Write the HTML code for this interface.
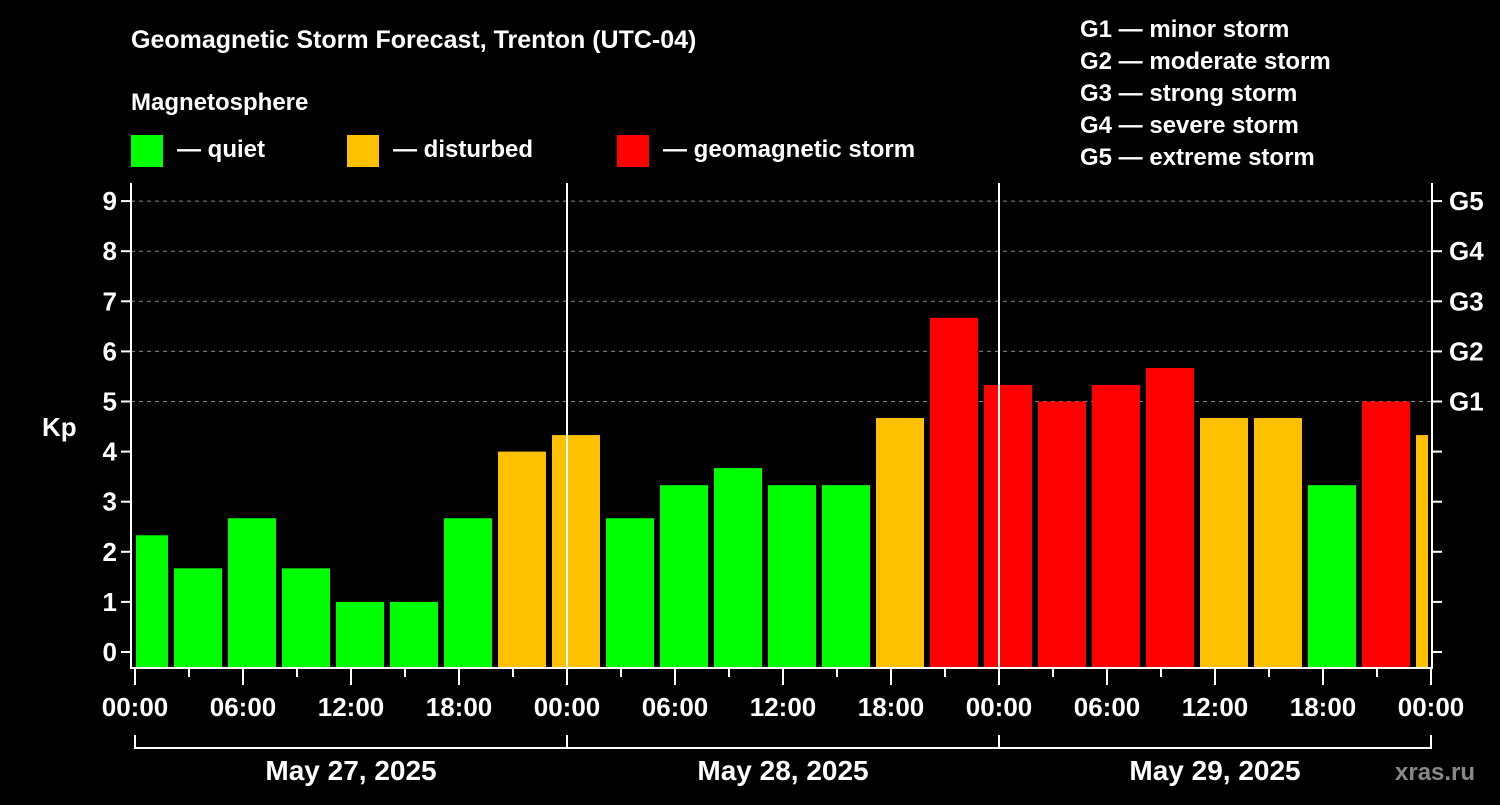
<!DOCTYPE html>
<html><head><meta charset="utf-8"><style>
body{margin:0;background:#000;width:1500px;height:800px;overflow:hidden;font-family:"Liberation Sans",sans-serif;}
svg text{font-family:"Liberation Sans",sans-serif;font-weight:bold;fill:#fff;}
</style></head><body>
<svg id="c" width="1500" height="800" xmlns="http://www.w3.org/2000/svg">
<text x="131" y="48" font-size="25">Geomagnetic Storm Forecast, Trenton (UTC-04)</text>
<text x="131" y="110" font-size="24">Magnetosphere</text>
<rect x="131" y="135" width="32" height="32" fill="#00ff00"/>
<text x="177" y="157" font-size="24">— quiet</text>
<rect x="347" y="135" width="32" height="32" fill="#ffc000"/>
<text x="393" y="157" font-size="24">— disturbed</text>
<rect x="617" y="135" width="32" height="32" fill="#ff0000"/>
<text x="663" y="157" font-size="24">— geomagnetic storm</text>
<g font-size="24">
<text x="1080" y="37">G1 — minor storm</text>
<text x="1080" y="69">G2 — moderate storm</text>
<text x="1080" y="101">G3 — strong storm</text>
<text x="1080" y="133">G4 — severe storm</text>
<text x="1080" y="165">G5 — extreme storm</text>
</g>
<text x="42" y="436" font-size="26">Kp</text>
<text x="1395" y="780" font-size="24" style="fill:#888">xras.ru</text>
<g id="g"></g>
</svg>
<script>
const kpValues=[2.33,1.67,2.67,1.67,1,1,2.67,4,4.33,2.67,3.33,3.67,3.33,3.33,4.67,6.67,5.33,5,5.33,5.67,4.67,4.67,3.33,5,4.33];
const yTicks=[0,1,2,3,4,5,6,7,8,9];
const gLabels=["G1","G2","G3","G4","G5"];
const xTickLabels=["00:00","06:00","12:00","18:00","00:00","06:00","12:00","18:00","00:00","06:00","12:00","18:00","00:00"];
const dateLabels=["May 27, 2025","May 28, 2025","May 29, 2025"];
const L=131,R=1432,T=183,B=668,X0=135,PXH=18;
const y=v=>652-v*50.1;
const x=h=>X0+h*PXH;
const ns="http://www.w3.org/2000/svg",g=document.getElementById('g');
function mk(t,a){const e=document.createElementNS(ns,t);for(const k in a)e.setAttribute(k,a[k]);g.appendChild(e);return e;}
// grid
yTicks.filter(v=>v>=5).forEach(v=>{const e=mk('line',{x1:L,x2:R,y1:y(v),y2:y(v),stroke:'#888','stroke-dasharray':'4,4','stroke-width':1});

});
// bars
kpValues.forEach((v,i)=>{const c=0.5+3*i;let x1=x(c)-24,x2=x(c)+24;x1=Math.max(x1,136);x2=Math.min(x2,1428);
const col=v>=5?'#ff0000':(v>=4?'#ffc000':'#00ff00');
const e=mk('rect',{x:x1,y:y(v),width:x2-x1,height:B-y(v),fill:col});

});
// day lines
[24,48].forEach(h=>{const e=mk('line',{x1:x(h),x2:x(h),y1:T,y2:B,stroke:'#fff','stroke-width':2});

});
// frame
const f=mk('path',{d:`M${L} ${T}V${B}H${R}V${T}`,stroke:'#fff','stroke-width':2,fill:'none'});


yTicks.forEach(v=>{mk('line',{x1:L-10,x2:L,y1:y(v),y2:y(v),stroke:'#fff','stroke-width':2});mk('line',{x1:R,x2:R+10,y1:y(v),y2:y(v),stroke:'#fff','stroke-width':2});
const t=mk('text',{x:L-14,y:y(v)+9,'font-size':26,'text-anchor':'end'});t.textContent=v;

});
gLabels.forEach((s,i)=>{const t=mk('text',{x:R+17,y:y(5+i)+9,'font-size':26});t.textContent=s;

});
for(let h=0;h<=72;h+=3){mk('line',{x1:x(h),x2:x(h),y1:B,y2:B+(h%6?9:17),stroke:'#fff','stroke-width':2});}
xTickLabels.forEach((s,i)=>{const t=mk('text',{x:x(i*6),y:716,'font-size':26,'text-anchor':'middle'});t.textContent=s;

});
mk('path',{d:`M${x(0)} 735V748H${x(72)}V735`,stroke:'#fff','stroke-width':2,fill:'none'});
[24,48].forEach(h=>mk('line',{x1:x(h),x2:x(h),y1:735,y2:748,stroke:'#fff','stroke-width':2}));
dateLabels.forEach((s,i)=>{const t=mk('text',{x:x(i*24+12),y:780,'font-size':28,'text-anchor':'middle'});t.textContent=s;

});
</script>
</body></html>
